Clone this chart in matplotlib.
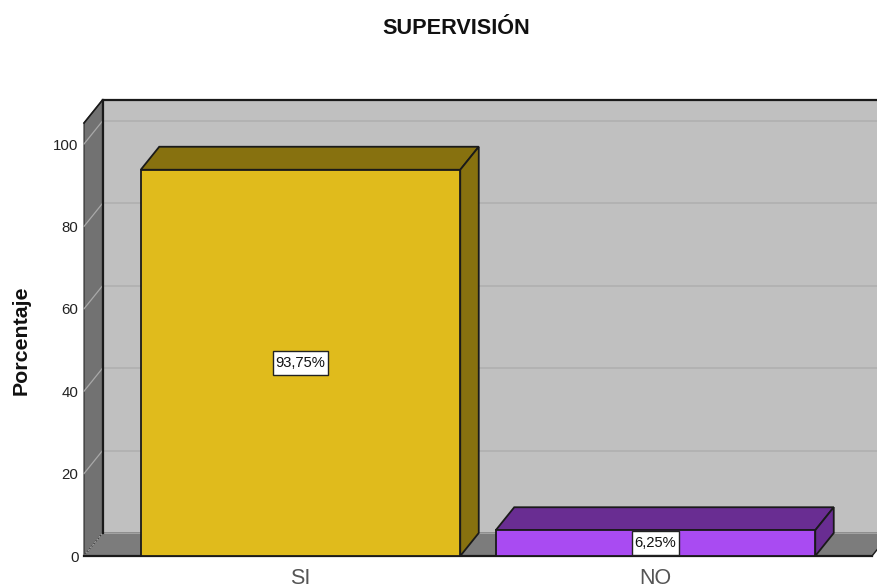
import matplotlib
matplotlib.use("Agg")
import matplotlib.pyplot as plt
from matplotlib.patches import Polygon, Rectangle

categories = ["SI", "NO"]
values = [93.75, 6.25]
labels = ["93,75%", "6,25%"]
yticks = [0, 20, 40, 60, 80, 100]
title = "SUPERVISIÓN"
ylabel = "Porcentaje"

W, H = 877, 588
FRONT_L, FRONT_R, FRONT_B, FRONT_T = 84, 872, 556, 123
DX_PX, DY_PX = 18.5, 23
PX_PER_UNIT = 4.12
CAT_STEP = 355
CAT0_PX = 300.5
BAR_W = 0.9
BOX_H_PX = 24.5
BOX_PAD_PX = 3

colors = ["#E0BB1C", "#A94BF2"]
tops = ["#87710F", "#692D92"]
sides = ["#87710F", "#692D92"]

plt.rcParams["font.family"] = ["Liberation Sans", "DejaVu Sans"]
fig = plt.figure(figsize=(W / 100, H / 100), dpi=100, facecolor="white")
ax = fig.add_axes([FRONT_L / W, 1 - FRONT_B / H, (FRONT_R - FRONT_L) / W, (FRONT_B - FRONT_T) / H])
ax.set_xlim((FRONT_L - CAT0_PX) / CAT_STEP, (FRONT_R - CAT0_PX) / CAT_STEP)
ax.set_ylim(0, (FRONT_B - FRONT_T) / PX_PER_UNIT)
ax.patch.set_visible(False)
for s in ax.spines.values():
    s.set_visible(False)

dx = DX_PX / CAT_STEP
dy = DY_PX / PX_PER_UNIT
x0, x1 = ax.get_xlim()
y0, y1 = ax.get_ylim()
EDGE = "#1a1a1a"

def poly(pts, fc, ec=EDGE, lw=1.3, z=1):
    ax.add_patch(Polygon(pts, closed=True, facecolor=fc, edgecolor=ec, linewidth=lw,
                         zorder=z, clip_on=False, joinstyle="miter"))

# back wall, left wall, floor
poly([(x0 + dx, y0 + dy), (x1 + dx, y0 + dy), (x1 + dx, y1 + dy), (x0 + dx, y1 + dy)], "#C0C0C0", z=1)
poly([(x0, y0), (x0 + dx, y0 + dy), (x0 + dx, y1 + dy), (x0, y1)], "#727272", ec="#2a2a2a", lw=0.8, z=1.2)
poly([(x0, y0), (x1, y0), (x1 + dx, y0 + dy), (x0 + dx, y0 + dy)], "#7C7C7C", ec="none", lw=0, z=1.1)
ax.plot([x0 + dx, x0 + dx], [y0 + dy, y1 + dy], color=EDGE, lw=1.6, zorder=1.3, clip_on=False)
ax.plot([x0 + dx, x1 + dx], [y1 + dy, y1 + dy], color=EDGE, lw=1.6, zorder=1.3, clip_on=False)
ax.plot([x0, x0 + dx], [y1, y1 + dy], color=EDGE, lw=1.2, zorder=1.3, clip_on=False)
ax.plot([x0, x1], [y0, y0], color=EDGE, lw=1.6, zorder=1.3, clip_on=False)
ax.plot([x1, x1 + dx], [y0, y0 + dy], color=EDGE, lw=1.0, zorder=1.3, clip_on=False)

# gridlines on the walls
for t in yticks:
    ax.plot([x0 + dx, x1 + dx], [t + dy, t + dy], color="#AEAEAE", lw=1.1, zorder=1.15, clip_on=False)
    if t > 0:
        ax.plot([x0, x0 + dx], [t, t + dy], color="#A9A9A9", lw=0.9, zorder=1.25, clip_on=False)
ax.plot([x0, x0 + dx], [0, dy], color="#A9A9A9", lw=0.8, ls=(0, (2, 1)), zorder=1.25, clip_on=False)

# bars
renderer = fig.canvas.get_renderer()
for i, v in enumerate(values):
    l, r = i - BAR_W / 2, i + BAR_W / 2
    poly([(l, v), (r, v), (r + dx, v + dy), (l + dx, v + dy)], tops[i], z=3)
    poly([(r, 0), (r + dx, dy), (r + dx, v + dy), (r, v)], sides[i], z=3)
    ax.bar(i, v, width=BAR_W, color=colors[i], edgecolor=EDGE, linewidth=1.3, zorder=4, clip_on=False)
    txt = ax.text(i, v / 2, labels[i], ha="center", va="center", fontsize=10.6, color="#111111", zorder=6)
    w_px = txt.get_window_extent(renderer).width + 2 * BOX_PAD_PX
    bw = w_px / CAT_STEP
    bh = BOX_H_PX / PX_PER_UNIT
    ax.add_patch(Rectangle((i - bw / 2, v / 2 - bh / 2), bw, bh, facecolor="white",
                           edgecolor="#222222", linewidth=1.0, zorder=5, clip_on=False))

ax.set_yticks(yticks)
ax.tick_params(axis="y", length=0, pad=4, labelsize=10.8, labelcolor="#222222")
ax.set_xticks(range(len(categories)))
ax.set_xticklabels(categories, fontsize=15.5, color="#555555")
ax.tick_params(axis="x", length=0, pad=9)

fig.text(456 / W, 1 - 29 / H, title, ha="center", va="center", fontsize=15.6, fontweight="bold", color="#111111")
fig.text(21 / W, 1 - 340 / H, ylabel, ha="center", va="center", rotation=90, fontsize=15.4, fontweight="bold", color="#111111")

fig.savefig("out.png", dpi=100)
